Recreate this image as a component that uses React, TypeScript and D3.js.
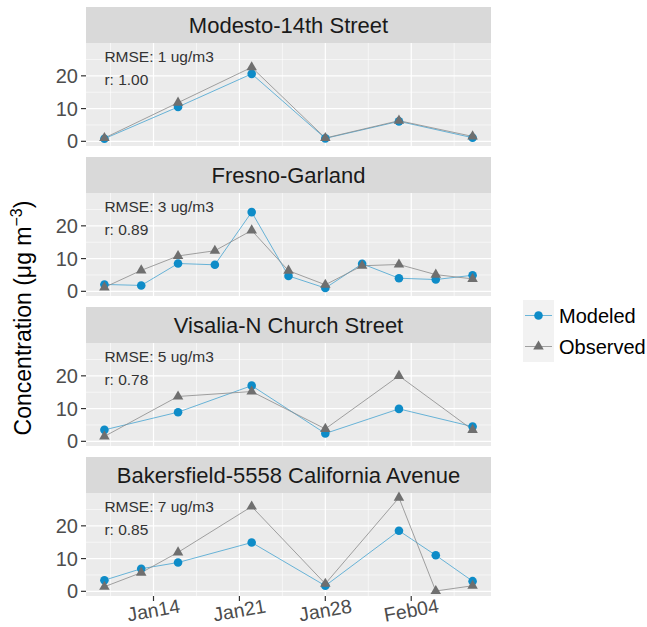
import * as d3 from "d3";

const W = 647;
const H = 627;

const stations = [
  "Modesto-14th Street",
  "Fresno-Garland",
  "Visalia-N Church Street",
  "Bakersfield-5558 California Avenue",
];
const rmseLabels = ["RMSE: 1 ug/m3", "RMSE: 3 ug/m3", "RMSE: 5 ug/m3", "RMSE: 7 ug/m3"];
const rLabels = ["r: 1.00", "r: 0.89", "r: 0.78", "r: 0.85"];

const sixDayDates = ["2016-01-10", "2016-01-16", "2016-01-22", "2016-01-28", "2016-02-03", "2016-02-09"];
const threeDayDates = [
  "2016-01-10", "2016-01-13", "2016-01-16", "2016-01-19", "2016-01-22", "2016-01-25",
  "2016-01-28", "2016-01-31", "2016-02-03", "2016-02-06", "2016-02-09",
];
const bakersfieldDates = [
  "2016-01-10", "2016-01-13", "2016-01-16", "2016-01-22", "2016-01-28", "2016-02-03", "2016-02-06", "2016-02-09",
];

const modestoModeled = [0.8, 10.5, 20.6, 0.9, 6.1, 1.1];
const modestoObserved = [1.0, 11.8, 22.6, 1.0, 6.3, 1.5];
const fresnoModeled = [2.1, 1.8, 8.5, 8.1, 24.2, 4.7, 1.0, 8.4, 4.0, 3.6, 4.9];
const fresnoObserved = [1.2, 6.4, 10.8, 12.4, 18.6, 6.3, 2.0, 7.8, 8.2, 5.1, 3.8];
const visaliaModeled = [3.5, 8.9, 17.0, 2.4, 9.9, 4.5];
const visaliaObserved = [1.5, 13.7, 15.2, 3.8, 20.0, 3.5];
const bakersfieldModeled = [3.4, 6.9, 8.8, 14.9, 1.7, 18.5, 11.0, 3.1];
const bakersfieldObserved = [1.4, 5.7, 11.9, 25.9, 2.3, 28.6, 0.1, 1.7];

const stationDates = [sixDayDates, threeDayDates, sixDayDates, bakersfieldDates];
const stationModeled = [modestoModeled, fresnoModeled, visaliaModeled, bakersfieldModeled];
const stationObserved = [modestoObserved, fresnoObserved, visaliaObserved, bakersfieldObserved];

const yTicks = [0, 10, 20];
const yMinorTicks = [5, 15, 25];
const xTicks = ["2016-01-14", "2016-01-21", "2016-01-28", "2016-02-04"];
const xMinorTicks = ["2016-01-10T12:00", "2016-01-17T12:00", "2016-01-24T12:00", "2016-01-31T12:00", "2016-02-07T12:00"];
const annotY = [26, 19];

const seriesNames = ["Modeled", "Observed"];

const blue = "#0E8CC8";
const gray = "#6F6F6F";
const font = "'Liberation Sans', Arial, Helvetica, sans-serif";

const panelLeft = 86;
const panelRight = 491;
const firstTop = 7;
const period = 150;
const stripH = 36;
const plotH = 103;

const parse = (s: string) => new Date(s.length > 10 ? s + "Z" : s + "T00:00:00Z");

const x = d3
  .scaleUtc()
  .domain([
    d3.utcHour.offset(parse("2016-01-10"), -36),
    d3.utcHour.offset(parse("2016-02-09"), 36),
  ])
  .range([panelLeft, panelRight]);

const yMax = 28.6;
const yDomain: [number, number] = [-yMax * 0.05, yMax * 1.05];

const triangle = d3.symbol(d3.symbolTriangle, 48)() as string;

type Pt = { d: Date; v: number };

function Panel({ i }: { i: number }) {
  const top = firstTop + i * period;
  const plotTop = top + stripH;
  const y = d3.scaleLinear().domain(yDomain).range([plotTop + plotH, plotTop]);
  const dates = stationDates[i].map(parse);
  const mod: Pt[] = dates.map((d, k) => ({ d, v: stationModeled[i][k] }));
  const obs: Pt[] = dates.map((d, k) => ({ d, v: stationObserved[i][k] }));
  const ln = d3
    .line<Pt>()
    .x((p) => x(p.d))
    .y((p) => y(p.v));

  return (
    <g>
      <rect x={panelLeft} y={top} width={panelRight - panelLeft} height={stripH} fill="#D9D9D9" />
      <text
        x={(panelLeft + panelRight) / 2}
        y={top + stripH / 2}
        textAnchor="middle"
        dominantBaseline="central"
        fontSize={22}
        fill="#1A1A1A"
      >
        {stations[i]}
      </text>
      <rect x={panelLeft} y={plotTop} width={panelRight - panelLeft} height={plotH} fill="#EBEBEB" />
      {yMinorTicks.map((t) => (
        <line key={"ym" + t} x1={panelLeft} x2={panelRight} y1={y(t)} y2={y(t)} stroke="#fff" strokeWidth={0.6} />
      ))}
      {xMinorTicks.map((t) => (
        <line key={"xm" + t} x1={x(parse(t))} x2={x(parse(t))} y1={plotTop} y2={plotTop + plotH} stroke="#fff" strokeWidth={0.6} />
      ))}
      {yTicks.map((t) => (
        <line key={"y" + t} x1={panelLeft} x2={panelRight} y1={y(t)} y2={y(t)} stroke="#fff" strokeWidth={1.2} />
      ))}
      {xTicks.map((t) => (
        <line key={"x" + t} x1={x(parse(t))} x2={x(parse(t))} y1={plotTop} y2={plotTop + plotH} stroke="#fff" strokeWidth={1.2} />
      ))}
      {yTicks.map((t) => (
        <g key={"yt" + t}>
          <line x1={panelLeft - 5} x2={panelLeft} y1={y(t)} y2={y(t)} stroke="#333" strokeWidth={1.2} />
          <text x={panelLeft - 8} y={y(t)} textAnchor="end" dominantBaseline="central" fontSize={20} fill="#4D4D4D">
            {t}
          </text>
        </g>
      ))}
      <path d={ln(mod) ?? ""} fill="none" stroke={blue} strokeOpacity={0.75} strokeWidth={0.8} />
      <path d={ln(obs) ?? ""} fill="none" stroke="#8A8A8A" strokeWidth={0.8} />
      {mod.map((p, k) => (
        <circle key={"m" + k} cx={x(p.d)} cy={y(p.v)} r={4.3} fill={blue} />
      ))}
      {obs.map((p, k) => (
        <path key={"o" + k} d={triangle} transform={`translate(${x(p.d)},${y(p.v)})`} fill={gray} />
      ))}
      <text x={x(parse("2016-01-10"))} y={y(annotY[0])} dominantBaseline="central" fontSize={15.5} fill="#333">
        {rmseLabels[i]}
      </text>
      <text x={x(parse("2016-01-10"))} y={y(annotY[1])} dominantBaseline="central" fontSize={15.5} fill="#333">
        {rLabels[i]}
      </text>
    </g>
  );
}

export default function App() {
  const bottom = firstTop + 3 * period + stripH + plotH;
  const legendX = 523;
  const legendY = 300;
  const key = 31;
  return (
    <svg
      width={W}
      height={H}
      style={{ position: "absolute", left: 0, top: 0, background: "#fff" }}
      fontFamily={font}
    >
      {stations.map((_, i) => (
        <Panel key={i} i={i} />
      ))}
      {xTicks.map((t) => {
        const px = x(parse(t));
        return (
          <g key={t}>
            <line x1={px} x2={px} y1={bottom} y2={bottom + 5} stroke="#333" strokeWidth={1.2} />
            <text
              transform={`translate(${px},${bottom + 14}) rotate(-10)`}
              textAnchor="middle"
              dominantBaseline="central"
              fontSize={19.5}
              fill="#4D4D4D"
            >
              {d3.utcFormat("%b%d")(parse(t))}
            </text>
          </g>
        );
      })}
      <text
        transform={`translate(31,318) rotate(-90)`}
        textAnchor="middle"
        fontSize={23}
        fill="#000"
      >
        Concentration (μg m
        <tspan dy={-9} fontSize={16}>
          −3
        </tspan>
        <tspan dy={9}>)</tspan>
      </text>
      {seriesNames.map((s, k) => {
        const ky = legendY + k * key;
        const cx = legendX + key / 2;
        const cy = ky + key / 2;
        return (
          <g key={s}>
            <rect x={legendX} y={ky} width={key} height={key} fill="#F2F2F2" />
            <line
              x1={legendX + 2}
              x2={legendX + key - 2}
              y1={cy}
              y2={cy}
              stroke={k === 0 ? blue : "#8A8A8A"}
              strokeOpacity={k === 0 ? 0.75 : 1}
              strokeWidth={0.8}
            />
            {k === 0 ? (
              <circle cx={cx} cy={cy} r={4.3} fill={blue} />
            ) : (
              <path d={triangle} transform={`translate(${cx},${cy})`} fill={gray} />
            )}
            <text x={legendX + key + 5} y={cy} dominantBaseline="central" fontSize={20} fill="#000">
              {s}
            </text>
          </g>
        );
      })}
    </svg>
  );
}
